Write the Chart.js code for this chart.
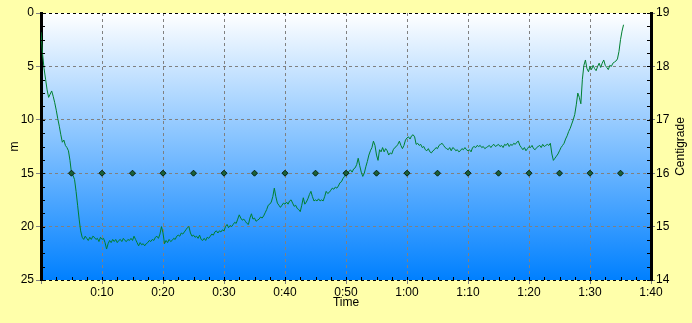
<!DOCTYPE html>
<html>
<head>
<meta charset="utf-8">
<script src="https://cdn.jsdelivr.net/npm/chart.js@4/dist/chart.umd.min.js"></script>
<style>
html,body{margin:0;padding:0;background:#FFFFAA;}
#wrap{width:692px;height:323px;}
</style>
</head>
<body>
<div id="wrap"><canvas id="c" width="692" height="323"></canvas></div>
<script>
// Dive log: depth (m) sampled every 0.25 minutes, starting at 0:00
const sampleInterval = 0.25;
const depthValue = [
1.8,3.8,5.2,6.2,7.2,7.9,7.6,7.3,7.8,8.4,9.1,9.9,10.6,11.4,12.1,11.9,12.4,12.6,12.9,13.8,
15.0,15.2,15.6,16.7,18.0,19.3,20.4,21.0,21.2,20.9,21.1,21.3,21.0,21.2,20.9,21.0,21.2,21.1,21.4,21.0,
21.2,21.1,21.5,22.1,21.6,21.3,21.5,21.2,21.4,21.2,21.5,21.3,21.2,21.4,21.1,21.3,21.4,21.2,21.3,21.1,
21.3,20.9,21.2,21.5,21.8,21.5,21.7,21.6,21.8,21.6,21.5,21.3,21.4,21.2,21.3,21.0,20.9,21.1,20.7,20.0,
20.6,21.6,21.3,21.5,21.2,21.4,21.3,21.1,21.2,20.9,20.8,20.9,20.6,20.7,20.5,20.3,20.1,20.0,20.6,20.9,
20.8,21.0,20.9,21.1,20.8,21.2,21.3,21.1,21.3,21.0,21.1,20.9,20.7,20.8,20.5,20.4,20.6,20.4,20.5,20.3,
20.4,20.0,19.8,20.1,19.9,20.0,19.8,19.6,19.7,19.3,18.9,19.2,19.4,19.3,19.5,19.7,19.8,19.2,18.8,19.3,
19.2,19.5,19.4,19.3,19.1,19.2,19.0,18.7,18.4,18.0,17.9,17.7,17.2,16.4,17.2,17.8,18.0,18.2,18.0,17.8,
17.9,17.7,17.9,17.6,17.5,17.8,18.1,18.0,18.3,18.4,18.6,18.0,17.3,17.9,17.7,17.4,17.0,16.7,17.2,17.6,
17.5,17.6,17.4,17.6,17.5,17.6,17.2,16.7,16.9,16.8,16.6,16.4,16.5,16.3,16.4,16.2,15.9,15.8,15.5,15.3,
15.0,15.1,14.8,14.7,14.9,14.6,14.5,14.2,13.6,14.3,14.9,15.3,15.0,14.4,13.9,13.3,12.9,12.6,12.0,12.4,
13.3,13.8,12.8,13.0,12.6,13.0,12.7,12.9,13.3,13.1,13.2,12.8,12.6,12.5,12.3,12.0,12.4,12.7,12.4,11.9,
11.7,11.6,11.8,11.5,11.4,11.6,12.3,12.2,12.4,12.3,12.6,12.5,12.8,12.9,12.7,13.0,13.1,12.9,12.8,12.6,
12.7,12.4,12.3,12.2,12.4,12.6,12.7,12.8,12.6,12.9,12.6,12.7,12.9,12.8,13.0,12.9,12.7,12.8,12.6,12.8,
12.9,12.8,13.0,12.6,12.5,12.6,12.4,12.5,12.4,12.6,12.5,12.7,12.6,12.5,12.4,12.6,12.4,12.3,12.5,12.4,
12.3,12.5,12.4,12.6,12.3,12.4,12.2,12.5,12.3,12.4,12.2,12.3,12.1,12.0,12.4,12.6,12.8,12.6,12.9,12.7,
12.5,12.6,12.4,12.7,12.8,12.6,12.5,12.4,12.6,12.3,12.5,12.4,12.3,12.4,12.2,13.2,13.8,13.6,13.4,13.2,
12.9,12.6,12.4,12.2,11.8,11.5,11.1,10.8,10.4,10.0,9.5,8.6,7.5,7.9,8.5,6.2,4.9,4.4,5.2,5.5,
5.0,5.3,4.9,5.2,5.4,5.0,4.7,5.1,4.7,4.4,4.9,5.1,5.3,4.9,5.0,4.7,4.6,4.5,4.3,3.6,
2.5,1.7,1.1];

// Temperature samples (Centigrade) every 5 minutes
const tempTime = [5,10,15,20,25,30,35,40,45,50,55,60,65,70,75,80,85,90,95];
const tempValue = [16,16,16,16,16,16,16,16,16,16,16,16,16,16,16,16,16,16,16];

// Axis settings
const timeTicks = [0,10,20,30,40,50,60,70,80,90,100];
const depthRange = [0,25];
const tempRange = [14,19];

const FONT = "'Liberation Sans Narrow','Liberation Sans',Arial,sans-serif";

function fmtTime(v){
  if (v === 0) return '';
  const h = Math.floor(v/60), m = Math.round(v%60);
  return h + ':' + (m<10?'0':'') + m;
}

const bgPlugin = {
  id:'bg',
  beforeDraw(chart){
    const {ctx, chartArea:a} = chart;
    ctx.save();
    ctx.fillStyle = '#FFFFAA';
    ctx.fillRect(0,0,chart.width,chart.height);
    const g = ctx.createLinearGradient(0,a.top,0,a.bottom);
    g.addColorStop(0,'#FFFFFF');
    g.addColorStop(1,'#0080FF');
    ctx.fillStyle = g;
    ctx.fillRect(a.left,a.top,a.right-a.left,a.bottom-a.top);
    ctx.restore();
  }
};

const extrasPlugin = {
  id:'extras',
  afterDraw(chart){
    const {ctx, chartArea:a, scales} = chart;
    ctx.save();
    ctx.strokeStyle = '#000';
    ctx.lineWidth = 1;
    ctx.beginPath();
    for (let v = depthRange[0]; v <= depthRange[1]; v += 1.25){
      const y = Math.round(scales.y.getPixelForValue(v)) + 0.5;
      ctx.moveTo(a.left, y); ctx.lineTo(a.left + 4, y);
      ctx.moveTo(a.right, y); ctx.lineTo(a.right - 4, y);
    }
    for (let v = 0; v <= 100; v += 2.5){
      const x = Math.round(scales.x.getPixelForValue(v)) + 0.5;
      ctx.moveTo(x, a.bottom); ctx.lineTo(x, a.bottom - 3);
    }
    ctx.stroke();
    ctx.fillStyle = '#000';
    ctx.font = '12px ' + FONT;
    ctx.textAlign = 'center';
    ctx.textBaseline = 'middle';
    ctx.translate(681, (a.top + a.bottom)/2);
    ctx.rotate(-Math.PI/2);
    ctx.fillText('Centigrade', 0, 0);
    ctx.restore();
  }
};

const edgeColor = c => (c.tick && (c.tick.value === depthRange[0] || c.tick.value === depthRange[1])) ? '#000000' : '#808080';

new Chart(document.getElementById('c'), {
  type:'scatter',
  data:{
    datasets:[
      {
        label:'Temperature',
        data: tempTime.map((t,i)=>({x:t, y:tempValue[i]})),
        yAxisID:'y1',
        showLine:false,
        pointStyle:'rectRot',
        pointRadius:3,
        pointBackgroundColor:'#1A6038',
        pointBorderColor:'#062010',
        pointBorderWidth:1,
        order:0
      },
      {
        label:'Depth',
        data: depthValue.map((d,i)=>({x:i*sampleInterval, y:d})),
        yAxisID:'y',
        showLine:true,
        borderColor:'#008030',
        borderWidth:1,
        pointRadius:0,
        tension:0,
        order:1
      }
    ]
  },
  options:{
    responsive:false,
    animation:false,
    events:[],
    layout:{padding:{top:13,left:0,right:0,bottom:0}},
    plugins:{legend:{display:false}, tooltip:{enabled:false}},
    scales:{
      x:{
        type:'linear', position:'bottom', min:0, max:100,
        afterBuildTicks(s){ s.ticks = timeTicks.map(v=>({value:v})); },
        afterFit(s){ s.height = 43; },
        ticks:{ callback: fmtTime, color:'#000', font:{family:FONT, size:12}, padding:1, maxRotation:0, autoSkip:false },
        grid:{ color:'#808080', lineWidth:1, tickLength:4, tickColor:'#808080', tickBorderDash:[] },
        border:{ display:false, dash:[3,3] },
        title:{ display:true, text:'Time', color:'#000', font:{family:FONT, size:12}, padding:{top:0,bottom:13} }
      },
      y:{
        type:'linear', position:'left', reverse:true, min:depthRange[0], max:depthRange[1],
        ticks:{ stepSize:5, color:'#000', font:{family:FONT, size:12}, padding:2 },
        afterFit(s){ s.width = 41; },
        grid:{ color:edgeColor, lineWidth:1, tickLength:5, tickColor:'#808080', tickBorderDash:[] },
        border:{ display:true, color:'#000', width:3, dash:[3,3] },
        title:{ display:true, text:'m', color:'#000', font:{family:FONT, size:12}, padding:{top:7,bottom:0} }
      },
      y1:{
        type:'linear', position:'right', min:tempRange[0], max:tempRange[1],
        ticks:{ stepSize:1, color:'#000', font:{family:FONT, size:12}, padding:1 },
        afterFit(s){ s.width = 41; },
        grid:{ drawOnChartArea:false, tickLength:4, tickColor:'#808080' },
        border:{ display:true, color:'#000', width:3 }
      }
    }
  },
  plugins:[bgPlugin, extrasPlugin]
});
</script>
</body>
</html>
